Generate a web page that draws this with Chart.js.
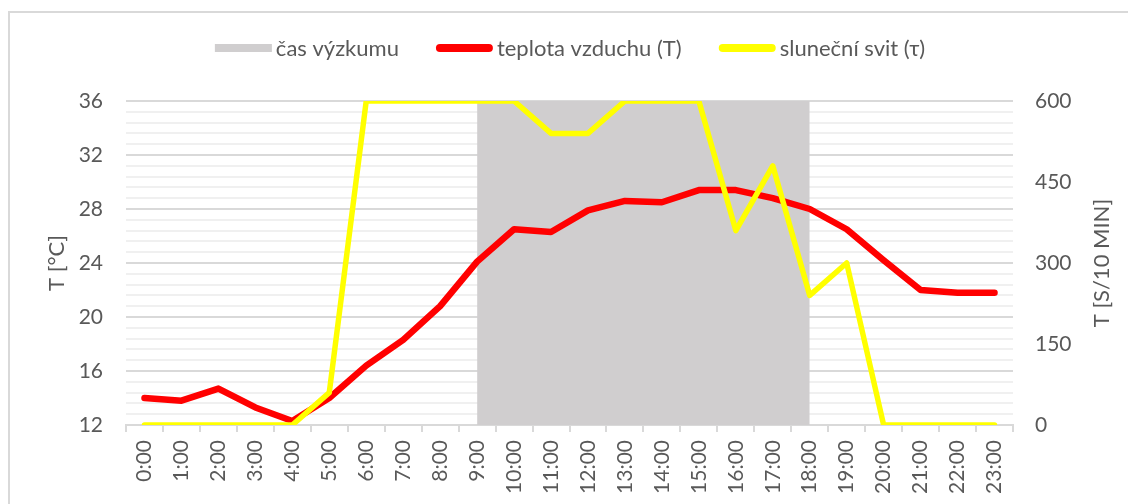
<!DOCTYPE html>
<html lang="cs">
<head>
<meta charset="utf-8">
<title>Teplota vzduchu a sluneční svit</title>
<script src="https://cdn.jsdelivr.net/npm/chart.js@4.4.1/dist/chart.umd.min.js"></script>
<style>
  html, body { margin: 0; padding: 0; background: #fff; }
  canvas { display: block; }
</style>
</head>
<body>
<canvas id="graf" width="1128" height="504"></canvas>
<script>
const hodiny = ["0:00", "1:00", "2:00", "3:00", "4:00", "5:00", "6:00", "7:00", "8:00", "9:00", "10:00", "11:00",
  "12:00", "13:00", "14:00", "15:00", "16:00", "17:00", "18:00", "19:00", "20:00", "21:00", "22:00", "23:00"];
// teplota vzduchu [°C]
const teplota = [14.0, 13.8, 14.7, 13.3, 12.3, 14.0, 16.4, 18.3, 20.8, 24.1, 26.5, 26.3,
  27.9, 28.6, 28.5, 29.4, 29.4, 28.8, 28.0, 26.5, 24.2, 22.0, 21.8, 21.8];
// sluneční svit [s/10 min]
const svit = [0, 0, 0, 0, 0, 60, 600, 600, 600, 600, 600, 540,
  540, 600, 600, 600, 360, 480, 240, 300, 0, 0, 0, 0];
// čas výzkumu 9:00 - 18:00 (plná výška osy)
const casVyzkumu = [null, null, null, null, null, null, null, null, null, 36, 36, 36,
  36, 36, 36, 36, 36, 36, 36, null, null, null, null, null];
const popisky = ["čas výzkumu", "teplota vzduchu (T)", "sluneční svit (τ)"];
const tickyT = { min: 12, max: 36, krok: 0.8, hlavni: 4 };
const tickySvit = { min: 0, max: 600, krok: 150 };

const pismo = 'Lato, "Noto Sans", sans-serif';
const seda = "#595959";

Chart.defaults.font.family = pismo;
Chart.defaults.font.size = 21;
Chart.defaults.color = seda;

const jeHlavni = (v) => Math.abs(v / tickyT.hlavni - Math.round(v / tickyT.hlavni)) < 1e-6;

const ramecek = {
  id: "ramecek",
  beforeDraw(chart) {
    const ctx = chart.ctx;
    ctx.save();
    ctx.strokeStyle = "#d9d9d9";
    ctx.lineWidth = 2;
    ctx.strokeRect(9, 12, chart.width + 20, chart.height + 20);
    ctx.restore();
  },
};

const legenda = {
  id: "legenda",
  afterDraw(chart) {
    const ctx = chart.ctx;
    const sady = chart.data.datasets;
    const znacka = 57, mezera = 4, odstup = 37, y = 48;
    ctx.save();
    ctx.font = "22px " + pismo;
    const sirky = sady.map((s) => ctx.measureText(s.label).width);
    const celkem = sirky.reduce((a, w) => a + znacka + mezera + w, 0) + odstup * (sady.length - 1);
    let x = 570 - celkem / 2;
    sady.forEach((s, i) => {
      if (s.fill) {
        ctx.fillStyle = s.backgroundColor;
        ctx.fillRect(x, y - 4, znacka, 8);
      } else {
        ctx.strokeStyle = s.borderColor;
        ctx.lineWidth = 8;
        ctx.lineCap = "round";
        ctx.beginPath();
        ctx.moveTo(x + 4, y);
        ctx.lineTo(x + znacka - 4, y);
        ctx.stroke();
      }
      ctx.fillStyle = seda;
      ctx.textBaseline = "middle";
      ctx.fillText(s.label, x + znacka + mezera, y + 1);
      x += znacka + mezera + sirky[i] + odstup;
    });
    ctx.restore();
  },
};

const titulekVpravo = {
  id: "titulekVpravo",
  afterDraw(chart) {
    const ctx = chart.ctx;
    const a = chart.chartArea;
    ctx.save();
    ctx.translate(1102, (a.top + a.bottom) / 2);
    ctx.rotate(-Math.PI / 2);
    ctx.font = "22px " + pismo;
    ctx.fillStyle = seda;
    ctx.textAlign = "center";
    ctx.textBaseline = "middle";
    ctx.fillText("T [S/10 MIN]", 0, 0);
    ctx.restore();
  },
};

document.addEventListener("DOMContentLoaded", () => {
  new Chart(document.querySelector("#graf"), {
    type: "line",
    data: {
      labels: hodiny,
      datasets: [
        {
          label: popisky[0],
          data: casVyzkumu,
          yAxisID: "y",
          fill: "start",
          backgroundColor: "#d0cecf",
          borderColor: "transparent",
          borderWidth: 0,
          pointRadius: 0,
          order: 3,
        },
        {
          label: popisky[1],
          data: teplota,
          yAxisID: "y",
          fill: false,
          borderColor: "#ff0000",
          backgroundColor: "#ff0000",
          borderWidth: 6.5,
          borderJoinStyle: "round",
          borderCapStyle: "round",
          pointRadius: 0,
          tension: 0,
          order: 2,
        },
        {
          label: popisky[2],
          data: svit,
          yAxisID: "y1",
          fill: false,
          borderColor: "#ffff00",
          backgroundColor: "#ffff00",
          borderWidth: 5.5,
          borderJoinStyle: "round",
          borderCapStyle: "round",
          pointRadius: 0,
          tension: 0,
          order: 1,
        },
      ],
    },
    options: {
      responsive: false,
      animation: false,
      devicePixelRatio: 1,
      events: [],
      layout: { padding: { top: 101, left: 0, right: 0, bottom: 0 } },
      scales: {
        x: {
          offset: true,
          grid: { offset: true, drawOnChartArea: false, drawTicks: true, tickLength: 7, color: "#d9d9d9", lineWidth: 2 },
          border: { color: "#d9d9d9", width: 2 },
          ticks: { minRotation: 90, maxRotation: 90, autoSkip: false, padding: 8 },
          afterFit(s) { s.height = 79; },
        },
        y: {
          position: "left",
          min: tickyT.min,
          max: tickyT.max,
          border: { display: false },
          grid: {
            drawTicks: false,
            lineWidth: 2,
            color: (c) => (jeHlavni(c.tick.value) ? "#d9d9d9" : "#f0f0f0"),
          },
          ticks: {
            stepSize: tickyT.krok,
            autoSkip: false,
            padding: 23,
            callback: (v) => (jeHlavni(v) ? Math.round(v) : ""),
          },
          title: { display: true, text: "T [°C]", font: { size: 22 }, padding: { top: 44, bottom: 0 } },
          afterFit(s) { s.width = 126; },
        },
        y1: {
          position: "right",
          min: tickySvit.min,
          max: tickySvit.max,
          border: { display: false },
          grid: { display: false, drawTicks: false },
          ticks: { stepSize: tickySvit.krok, padding: 22 },
          afterFit(s) { s.width = 115; },
        },
      },
      plugins: {
        legend: { display: false },
        tooltip: { enabled: false },
      },
    },
    plugins: [ramecek, legenda, titulekVpravo],
  });
});
</script>
</body>
</html>
